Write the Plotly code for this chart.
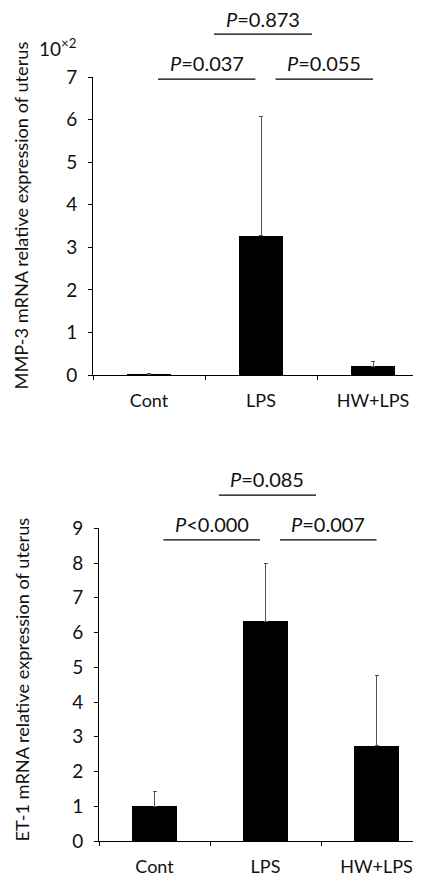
import plotly.graph_objects as go

categories = ["Cont", "LPS", "HW+LPS"]
mmp3_mean = [0.005, 3.27, 0.20]
mmp3_err = [0.02, 2.80, 0.12]
et1_mean = [1.00, 6.32, 2.74]
et1_err = [0.42, 1.68, 2.01]
mmp3_p = ["=0.037", "=0.055", "=0.873"]
et1_p = ["<0.000", "=0.007", "=0.085"]
mmp3_ticks = [0, 1, 2, 3, 4, 5, 6, 7]
et1_ticks = [0, 1, 2, 3, 4, 5, 6, 7, 8, 9]

WIN_W, WIN_H = 421, 883
OX, OY = 8, 8  # page body margin
W, H = WIN_W - OX, WIN_H - OY
FONT = "Lato"
TXT = "#111111"


def px(X):
    return (X - OX) / W


def py(Y):
    return (H - (Y - OY)) / H


fig = go.Figure()
fig.add_trace(go.Bar(x=categories, y=mmp3_mean, width=0.39, marker=dict(color="black", line=dict(width=0)),
                     error_y=dict(type="data", array=mmp3_err, arrayminus=[0]*3, symmetric=False,
                                  color="#555555", thickness=1, width=2),
                     xaxis="x", yaxis="y", showlegend=False))
fig.add_trace(go.Bar(x=categories, y=et1_mean, width=0.4, marker=dict(color="black", line=dict(width=0)),
                     error_y=dict(type="data", array=et1_err, arrayminus=[0]*3, symmetric=False,
                                  color="#555555", thickness=1, width=2),
                     xaxis="x2", yaxis="y2", showlegend=False))

top_x0, bot_x0 = 93, 99
top_cat, bot_cat = 112, 111
xr_top = [-0.5, -0.5 + (WIN_W - top_x0) / top_cat]
xr_bot = [-0.5, -0.5 + (WIN_W - bot_x0) / bot_cat]

yd_top = [py(375), py(77)]
yd_bot = [py(841), py(528.3)]

axcommon = dict(showline=True, linecolor="black", linewidth=1, showgrid=False, zeroline=False,
                ticks="outside", tickcolor="black", ticklen=4, automargin=False)
xfont = dict(family=FONT, size=18, color=TXT)
yfont = dict(family=FONT, size=19, color=TXT)

fig.update_layout(
    width=W, height=H, margin=dict(l=0, r=0, t=0, b=0, autoexpand=False),
    paper_bgcolor="white", plot_bgcolor="white",
    font=dict(family=FONT, color=TXT),
    bargap=0,
    xaxis=dict(domain=[px(top_x0), 1], anchor="y", type="category", range=xr_top,
               tickson="boundaries", ticklabelstandoff=9, tickfont=xfont, **axcommon),
    yaxis=dict(domain=yd_top, anchor="x", range=[0, 7], tickvals=mmp3_ticks, ticklabelstandoff=7,
               tickfont=yfont, **axcommon),
    xaxis2=dict(domain=[px(bot_x0), 1], anchor="y2", type="category", range=xr_bot,
                tickson="boundaries", ticklabelstandoff=9, tickfont=xfont, **axcommon),
    yaxis2=dict(domain=yd_bot, anchor="x2", range=[0, 9], tickvals=et1_ticks, ticklabelstandoff=7,
                tickfont=yfont, **axcommon),
)


def add_brackets(xref, yref, xr, pvals, ys):
    # pairs: (0,1), (1,2), (0,2)
    segs = [(0.08, 0.95), (1.13, 2.0), (0.58, 1.455)]
    for (a, b), p, (yl, yt) in zip(segs, pvals, ys):
        fa = (a - xr[0]) / (xr[1] - xr[0])
        fb = (b - xr[0]) / (xr[1] - xr[0])
        fig.add_shape(type="line", xref=xref + " domain", yref=yref + " domain",
                      x0=fa, x1=fb, y0=yl, y1=yl, line=dict(color="black", width=1.3))
        fig.add_annotation(xref=xref + " domain", yref=yref + " domain", x=(fa + fb) / 2, y=yt,
                           text="<i>P</i>" + p, showarrow=False, xanchor="center", yanchor="middle",
                           font=dict(family=FONT, size=20, color=TXT))


add_brackets("x", "y", xr_top, mmp3_p, [(0.993, 1.047), (0.993, 1.047), (1.144, 1.195)])
add_brackets("x2", "y2", xr_bot, et1_p, [(0.963, 1.014), (0.963, 1.014), (1.106, 1.157)])

fig.add_annotation(xref="paper", yref="paper", x=px(20.5), y=py(216), textangle=-90,
                   text="MMP-3 mRNA relative expression of uterus", showarrow=False,
                   font=dict(family=FONT, size=18.2, color=TXT), xanchor="center", yanchor="middle")
fig.add_annotation(xref="paper", yref="paper", x=px(21.5), y=py(680), textangle=-90,
                   text="ET-1 mRNA relative expression of uterus", showarrow=False,
                   font=dict(family=FONT, size=18.2, color=TXT), xanchor="center", yanchor="middle")
fig.add_annotation(xref="paper", yref="paper", x=px(37), y=py(47),
                   text="10<sup>×2</sup>", showarrow=False,
                   font=dict(family=FONT, size=19, color=TXT), xanchor="left", yanchor="middle")

fig.write_html("out.html")
